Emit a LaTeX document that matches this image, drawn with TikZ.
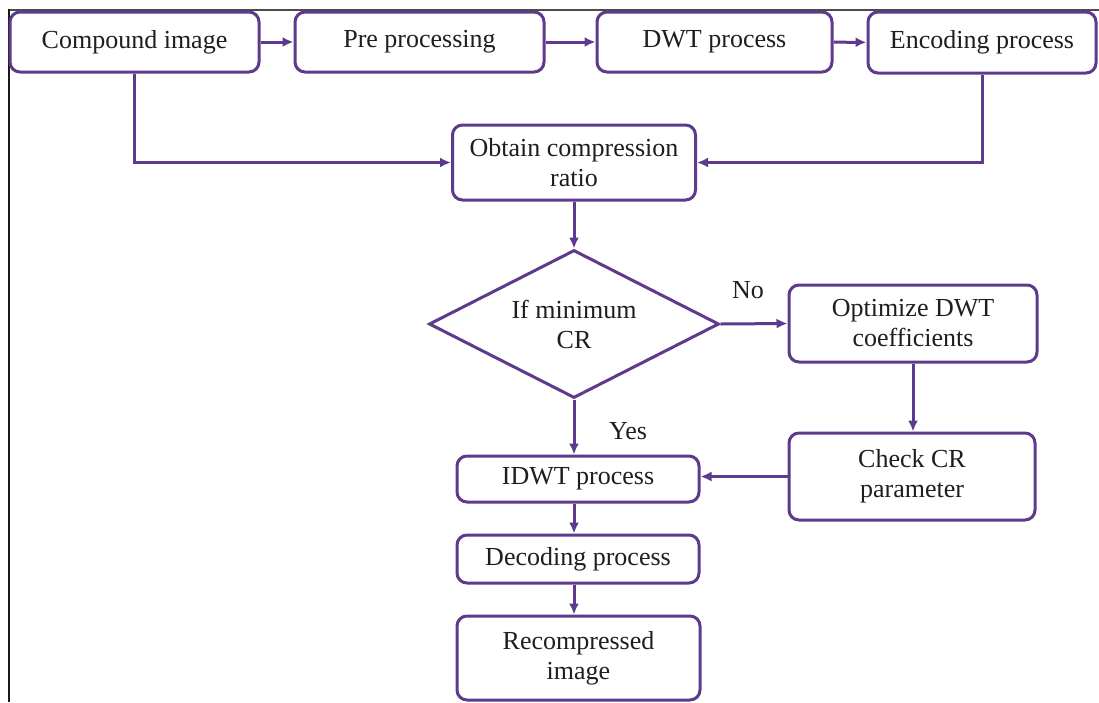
\documentclass[tikz,border=0pt]{standalone}
\usepackage{fontspec}
\setmainfont{Liberation Serif}
\usetikzlibrary{arrows.meta,shapes.geometric}
\definecolor{pc}{RGB}{94,58,140}
\definecolor{tc}{RGB}{30,30,30}
\begin{document}
\begin{tikzpicture}[x=1pt,y=-1pt,
  every node/.style={font=\fontsize{26}{30}\selectfont, text=tc},
  procbox/.style={draw=pc, line width=3pt, rounded corners=10pt, fill=white, align=center, inner sep=0pt},
  decbox/.style={draw=pc, line width=3pt, diamond, aspect=1.96, fill=white, align=center, inner sep=0pt, minimum width=290pt, minimum height=148pt},
  flow/.style={draw=pc, line width=3pt, -{Latex[length=11pt,width=10pt]}},
  lbl/.style={inner sep=0pt}
]
\useasboundingbox (0,0) rectangle (1099,702);
\fill[white] (0,0) rectangle (1099,702);
% frame
\draw[color=black!70, line width=2pt] (8,9.5) -- (1099,9.5);
\draw[color=black!90, line width=2pt] (8.5,9) -- (8.5,702);

\node[procbox, minimum width=249pt, minimum height=60pt] (comp) at (134.5,42) {Compound image};
\node[procbox, minimum width=249pt, minimum height=60pt] (pre) at (419.5,42) {Pre processing};
\node[procbox, minimum width=235pt, minimum height=60pt] (dwt) at (714.5,42) {DWT process};
\node[procbox, minimum width=228pt, minimum height=61pt] (enc) at (982,42.5) {Encoding process};
\node[procbox, minimum width=243pt, minimum height=75pt] (obt) at (574,162.5) {Obtain compression\\ratio};
\node[decbox] (dia) at (574,324) {If minimum\\CR};
\node[procbox, minimum width=248pt, minimum height=77pt] (opt) at (913,323.5) {Optimize DWT\\coefficients};
\node[procbox, minimum width=246pt, minimum height=87pt] (chk) at (912,476.5) {Check CR\\parameter};
\node[procbox, minimum width=242pt, minimum height=46pt] (idwt) at (578,479) {IDWT process};
\node[procbox, minimum width=242pt, minimum height=48pt] (dec) at (578,559) {Decoding process};
\node[procbox, minimum width=243pt, minimum height=84pt] (rec) at (578.5,658) {Recompressed\\image};

\node[lbl] (no) at (748,290) {No};
\node[lbl] (yes) at (628,431) {Yes};

\draw[flow] (comp) -- (pre);
\draw[flow] (pre) -- (dwt);
\draw[flow] (dwt) -- (enc);
\draw[flow] (comp.south) |- (obt.west);
\draw[flow] (enc.south) |- (obt.east);
\draw[flow] (obt.south) -- (dia.north);
\draw[flow] (dia.east) -- (opt.west);
\draw[flow] (opt.south) -- (opt.south |- chk.north);
\draw[flow] (chk.west) -- (chk.west -| idwt.east);
\draw[flow] (dia.south) -- (dia.south |- idwt.north);
\draw[flow] (dia.south |- idwt.south) -- (dia.south |- dec.north);
\draw[flow] (dia.south |- dec.south) -- (dia.south |- rec.north);
\end{tikzpicture}
\end{document}
